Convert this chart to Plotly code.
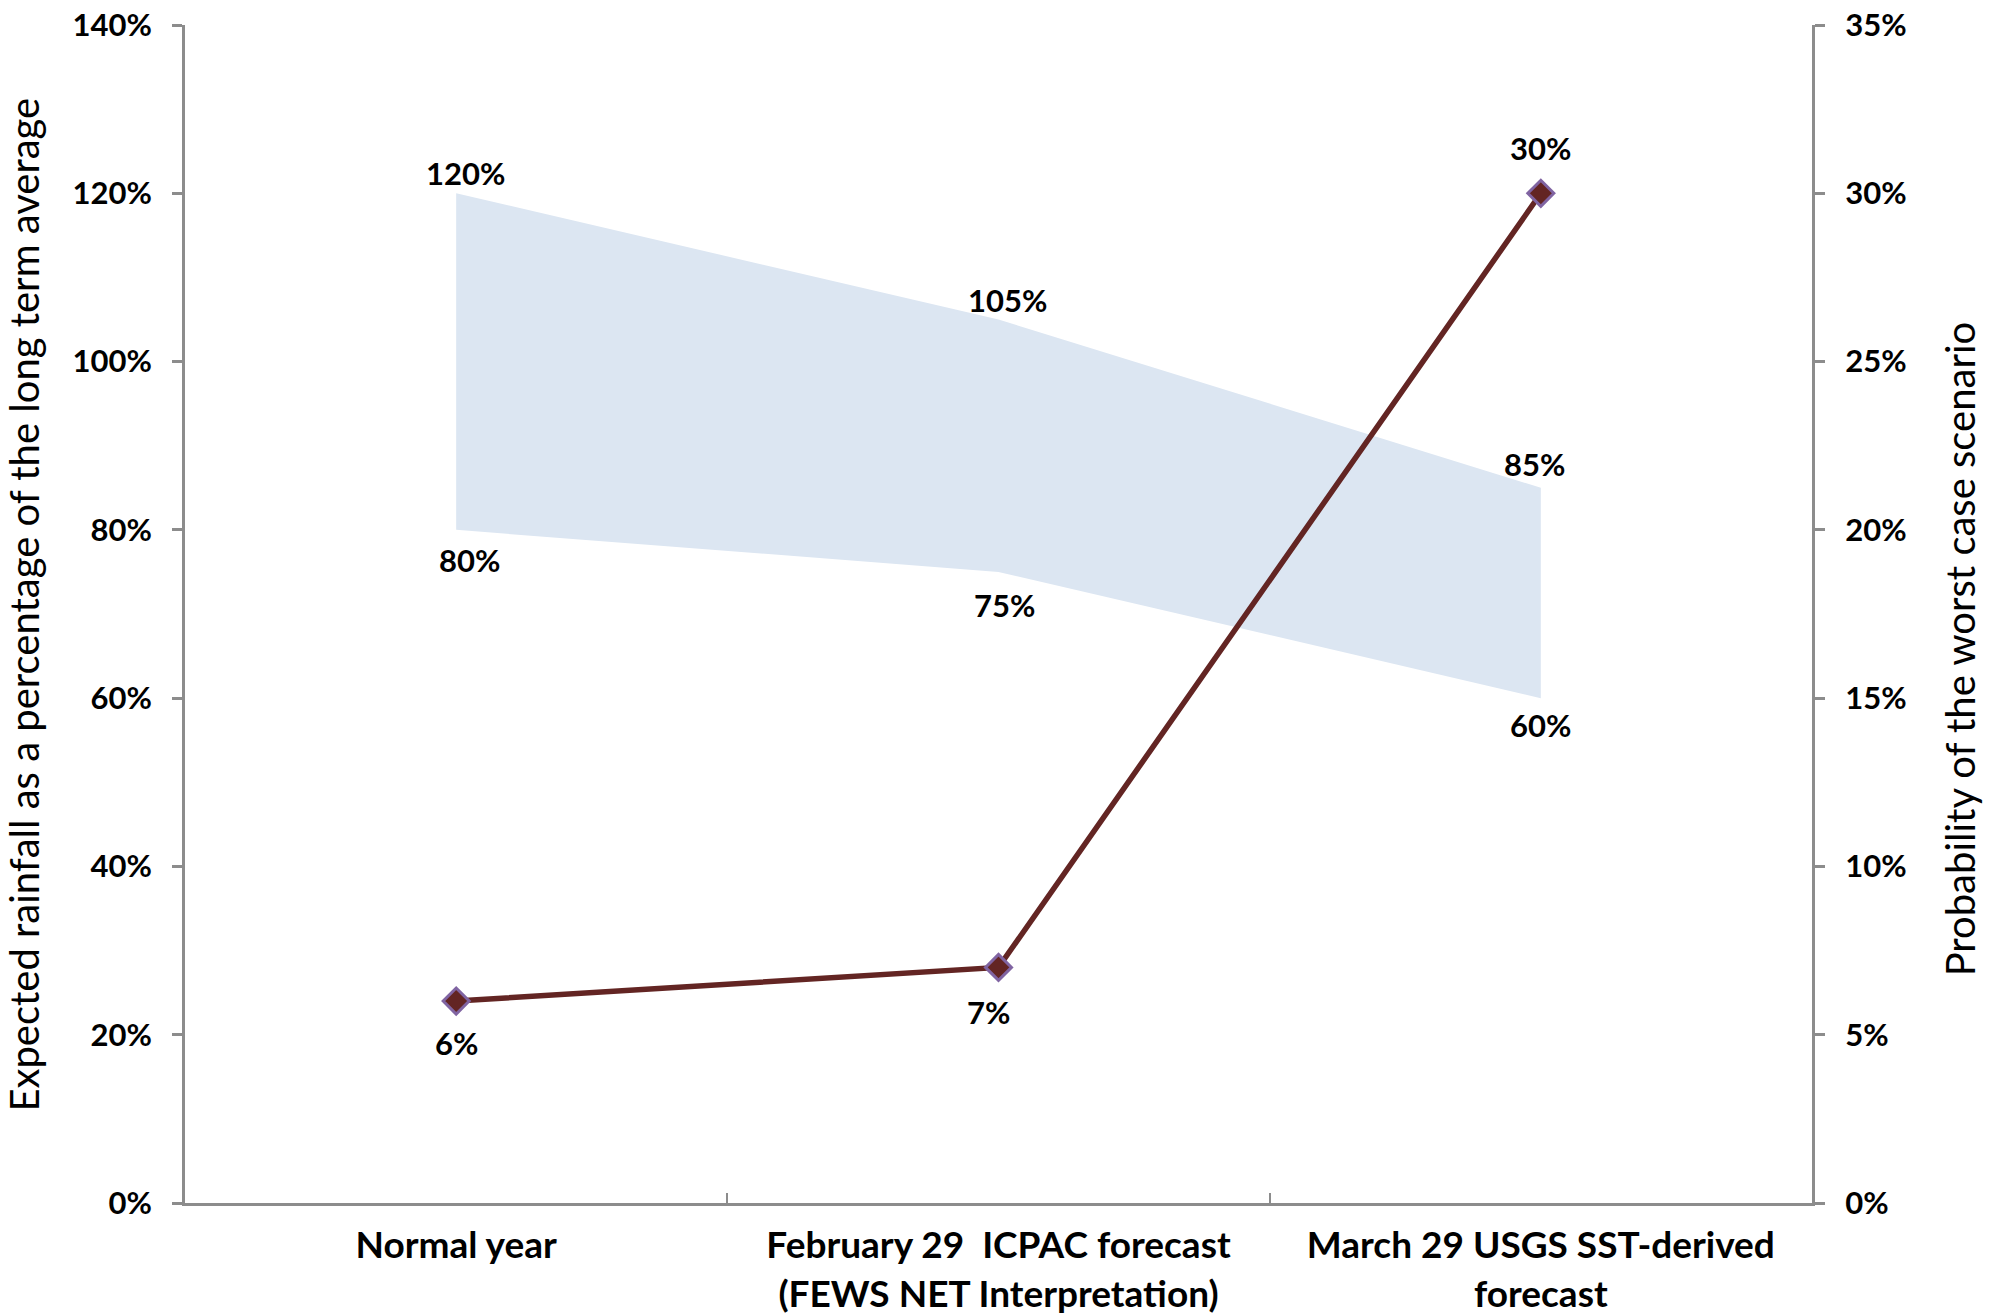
import plotly.graph_objects as go

categories = ["Normal year",
              "February 29  ICPAC forecast<br>(FEWS NET Interpretation)",
              "March 29 USGS SST-derived<br>forecast"]
rain_upper = [1.20, 1.05, 0.85]
rain_lower = [0.80, 0.75, 0.60]
worst_prob = [0.06, 0.07, 0.30]
left_ticks = [0, 0.2, 0.4, 0.6, 0.8, 1.0, 1.2, 1.4]
right_ticks = [0, 0.05, 0.10, 0.15, 0.20, 0.25, 0.30, 0.35]
left_title = "Expected rainfall as a percentage of the long term average"
right_title = "Probability of the worst case scenario"

# label offsets (pixels) for the data labels
upper_shift = [(9, 20), (9, 20), (-6, 24)]
lower_shift = [(13, -30), (6, -33), (0, -27)]
prob_shift = [(0, -42), (-10, -45), (0, 45)]

def pct(v):
    return f"{round(v*100)}%"

FONT = "Lato"
bold = dict(family=FONT, size=31, color="black", weight="bold")
axis_col = "#8c8c8c"

fig = go.Figure()
fig.add_trace(go.Scatter(x=categories, y=rain_lower, mode="lines",
                         line=dict(width=0, color="rgba(0,0,0,0)"),
                         hoverinfo="skip", showlegend=False))
fig.add_trace(go.Scatter(x=categories, y=rain_upper, mode="lines",
                         line=dict(width=0, color="rgba(0,0,0,0)"),
                         fill="tonexty", fillcolor="#dce6f2",
                         hoverinfo="skip", showlegend=False))
fig.add_trace(go.Scatter(x=categories, y=worst_prob, yaxis="y2",
                         mode="lines+markers",
                         line=dict(color="#632523", width=5.5),
                         marker=dict(symbol="diamond", size=20, color="#632523",
                                     line=dict(color="#8064a2", width=3)),
                         hoverinfo="skip", showlegend=False))

annotations = []
for c, v, (dx, dy) in zip(categories, rain_upper, upper_shift):
    annotations.append(dict(x=c, y=v, xref="x", yref="y", text=pct(v),
                            showarrow=False, xshift=dx, yshift=dy, font=bold))
for c, v, (dx, dy) in zip(categories, rain_lower, lower_shift):
    annotations.append(dict(x=c, y=v, xref="x", yref="y", text=pct(v),
                            showarrow=False, xshift=dx, yshift=dy, font=bold))
for c, v, (dx, dy) in zip(categories, worst_prob, prob_shift):
    annotations.append(dict(x=c, y=v, xref="x", yref="y2", text=pct(v),
                            showarrow=False, xshift=dx, yshift=dy, font=bold))

# axis titles
title_font = dict(family=FONT, size=40, color="black")
annotations.append(dict(text=left_title, xref="paper", yref="paper", x=0, y=0.508,
                        xanchor="center", yanchor="middle", xshift=-161,
                        textangle=-90, showarrow=False, font=title_font))
annotations.append(dict(text=right_title, xref="paper", yref="paper", x=1, y=0.47,
                        xanchor="center", yanchor="middle", xshift=148,
                        textangle=-90, showarrow=False, font=title_font))

fig.update_layout(
    width=2000, height=1315,
    margin=dict(l=185, r=188, t=25, b=112, autoexpand=False),
    paper_bgcolor="white", plot_bgcolor="white",
    font=dict(family=FONT, size=30, color="black"),
    annotations=annotations,
    xaxis=dict(type="category", categoryarray=categories, range=[-0.5, 2.5],
               showline=True, linecolor=axis_col, linewidth=3,
               ticks="inside", tickson="boundaries", ticklen=10, tickwidth=2,
               tickcolor=axis_col, showgrid=False, zeroline=False,
               ticklabelstandoff=8, automargin=False,
               tickfont=dict(family=FONT, size=37, color="black", weight="bold")),
    yaxis=dict(range=[0, 1.4], tickvals=left_ticks, tickformat=".0%",
               showline=True, linecolor=axis_col, linewidth=3,
               ticks="outside", ticklen=10, tickwidth=3, tickcolor=axis_col,
               showgrid=False, zeroline=False, tickfont=bold,
               ticklabelstandoff=14, automargin=False, ticklabeloverflow="allow"),
    yaxis2=dict(range=[0, 0.35], tickvals=right_ticks, tickformat=".0%",
                overlaying="y", side="right",
                showline=True, linecolor=axis_col, linewidth=3,
                ticks="outside", ticklen=10, tickwidth=3, tickcolor=axis_col,
                showgrid=False, zeroline=False, tickfont=bold,
                ticklabelstandoff=14, automargin=False, ticklabeloverflow="allow"),
)

fig.write_html("out.html", config={"displayModeBar": False},
               post_script="document.body.style.margin='0';")
